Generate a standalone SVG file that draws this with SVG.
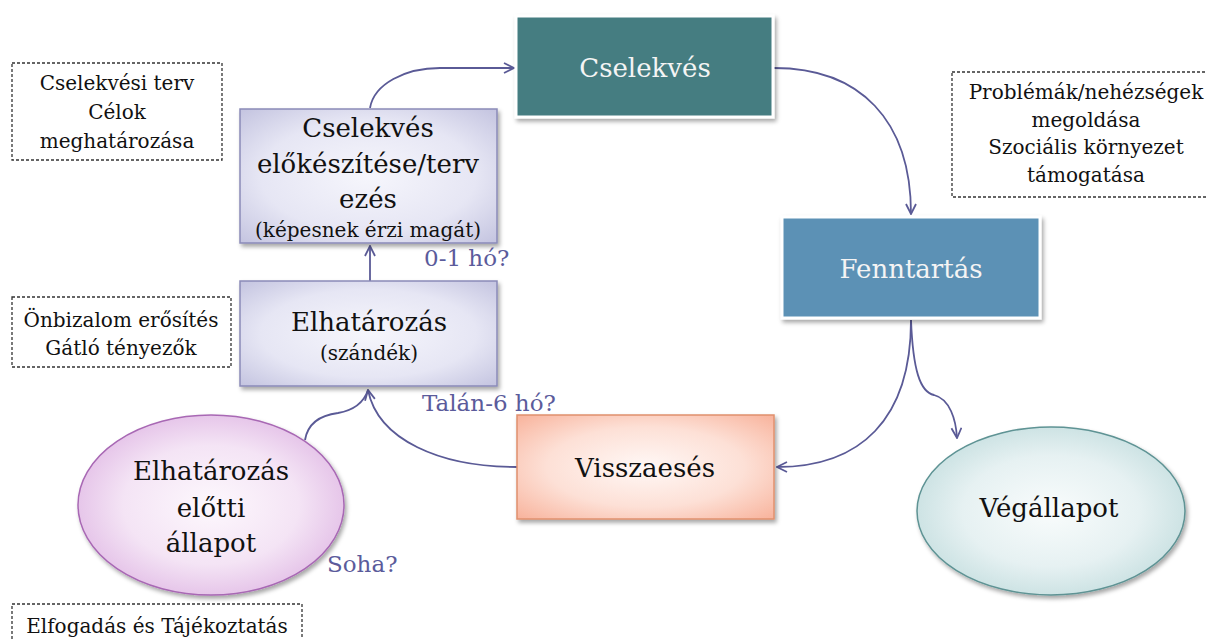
<svg xmlns="http://www.w3.org/2000/svg" width="1206" height="639" viewBox="0 0 1206 639">
<defs>
<style>
text{font-family:"DejaVu Serif","Liberation Serif",serif;text-anchor:middle;fill:#111}
.big{font-size:26px}
.sm{font-size:20px}
.note{font-size:20px}
.lbl{font-size:23px;fill:#5b5b9b;text-anchor:start}
.wt{fill:#f4f4f4}
.dash{fill:#fff;stroke:#333;stroke-width:1.3;stroke-dasharray:3 2}
.conn{fill:none;stroke:#5a5a96;stroke-width:1.8}
</style>
<filter id="sh" x="-10%" y="-10%" width="130%" height="140%">
<feDropShadow dx="2" dy="3" stdDeviation="2" flood-color="#000" flood-opacity="0.35"/>
</filter>
<radialGradient id="gLav" cx="50%" cy="50%" r="70%">
<stop offset="0" stop-color="#f6f6fc"/><stop offset="0.6" stop-color="#e6e6f4"/><stop offset="1" stop-color="#c4c4e0"/>
</radialGradient>
<radialGradient id="gSal" cx="50%" cy="50%" r="70%">
<stop offset="0" stop-color="#fff8f6"/><stop offset="0.55" stop-color="#fde0d6"/><stop offset="1" stop-color="#f8b39c"/>
</radialGradient>
<radialGradient id="gPink" cx="50%" cy="50%" r="55%">
<stop offset="0" stop-color="#fdf8fd"/><stop offset="0.6" stop-color="#f4e4f5"/><stop offset="1" stop-color="#e2bde6"/>
</radialGradient>
<radialGradient id="gCyan" cx="50%" cy="50%" r="55%">
<stop offset="0" stop-color="#f9fcfc"/><stop offset="0.6" stop-color="#e6f1f2"/><stop offset="1" stop-color="#c6dfe0"/>
</radialGradient>
<marker id="ah" viewBox="0 0 12 12" refX="11" refY="6" markerWidth="12" markerHeight="12" markerUnits="userSpaceOnUse" orient="auto">
<path d="M1,1 L11,6 L1,11" fill="none" stroke="#5a5a96" stroke-width="1.8"/>
</marker>
</defs>
<rect width="1206" height="639" fill="#fff"/>

<g id="connectors">
<path class="conn" d="M370,108 C374,84 405,68 440,68 L514,68" marker-end="url(#ah)"/>
<path class="conn" d="M774,68 C860,68 911,120 911,214" marker-end="url(#ah)"/>
<path class="conn" d="M911,320 C911,420 860,467 777,467" marker-end="url(#ah)"/>
<path class="conn" d="M911,320 C913,370 920,392 934,395 C950,399 956,420 957,438" marker-end="url(#ah)"/>
<path class="conn" d="M370,281 L370,246" marker-end="url(#ah)"/>
<path class="conn" d="M517,467 C440,467 378,440 368,390" marker-end="url(#ah)"/>
<path class="conn" d="M305,440 C308,422 322,415 338,413 C355,410 364,402 368,390"/>
</g>

<g id="note-terv">
<rect class="dash" x="12" y="63" width="210" height="97"/>
<text class="note" x="117" y="90">Cselekvési terv</text>
<text class="note" x="117" y="119">Célok</text>
<text class="note" x="117" y="148">meghatározása</text>
</g>

<g id="note-onbizalom">
<rect class="dash" x="12" y="297" width="219" height="70"/>
<text class="note" x="121" y="327">Önbizalom erősítés</text>
<text class="note" x="121" y="355">Gátló tényezők</text>
</g>

<g id="note-problemak">
<rect class="dash" x="952" y="72" width="262" height="125"/>
<text class="note" x="1086" y="99">Problémák/nehézségek</text>
<text class="note" x="1086" y="127">megoldása</text>
<text class="note" x="1086" y="154">Szociális környezet</text>
<text class="note" x="1086" y="182">támogatása</text>
</g>

<g id="note-elfogadas">
<rect class="dash" x="12" y="604" width="290" height="45"/>
<text class="note" x="157" y="633">Elfogadás és Tájékoztatás</text>
</g>

<g id="node-cselekves">
<rect x="516" y="16" width="257" height="101" fill="#447d81" stroke="#fff" stroke-width="3" filter="url(#sh)"/>
<text class="big wt" x="645" y="77">Cselekvés</text>
</g>

<g id="node-fenntartas">
<rect x="782" y="217" width="258" height="101" fill="#5b91b5" stroke="#fff" stroke-width="3" filter="url(#sh)"/>
<text class="big wt" x="911" y="278">Fenntartás</text>
</g>

<g id="node-elokeszites">
<rect x="240" y="109" width="257" height="134" fill="url(#gLav)" stroke="#8a8ab8" stroke-width="1.5" filter="url(#sh)"/>
<text class="big" x="368" y="137">Cselekvés</text>
<text class="big" x="368" y="173">előkészítése/terv</text>
<text class="big" x="368" y="208">ezés</text>
<text class="sm" x="368" y="237">(képesnek érzi magát)</text>
</g>

<g id="node-elhatarozas">
<rect x="240" y="281" width="257" height="105" fill="url(#gLav)" stroke="#8a8ab8" stroke-width="1.5" filter="url(#sh)"/>
<text class="big" x="369" y="331">Elhatározás</text>
<text class="sm" x="369" y="360">(szándék)</text>
</g>

<g id="node-visszaeses">
<rect x="517" y="415" width="257" height="104" fill="url(#gSal)" stroke="#e0906e" stroke-width="1.5" filter="url(#sh)"/>
<text class="big" x="645" y="477">Visszaesés</text>
</g>

<g id="node-elotti">
<ellipse cx="211" cy="505" rx="133" ry="90" fill="url(#gPink)" stroke="#a868b4" stroke-width="1.5" filter="url(#sh)"/>
<text class="big" x="211" y="480">Elhatározás</text>
<text class="big" x="211" y="517">előtti</text>
<text class="big" x="211" y="552">állapot</text>
</g>

<g id="node-vegallapot">
<ellipse cx="1051" cy="511" rx="134" ry="84" fill="url(#gCyan)" stroke="#5e9394" stroke-width="1.5" filter="url(#sh)"/>
<text class="big" x="1049" y="517">Végállapot</text>
</g>

<g id="labels">
<text class="lbl" x="424" y="266">0-1 hó?</text>
<text class="lbl" x="422" y="411">Talán-6 hó?</text>
<text class="lbl" x="327" y="572">Soha?</text>
</g>
</svg>
